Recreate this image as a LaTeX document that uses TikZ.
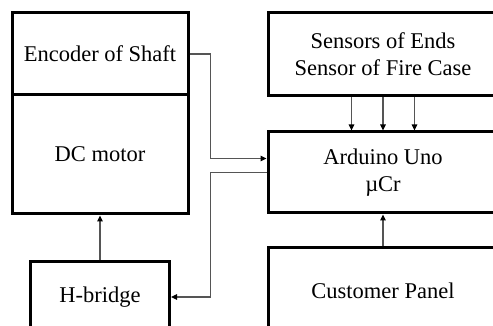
\documentclass[tikz,border=0pt]{standalone}
\usepackage{fontspec}
\setmainfont{Liberation Serif}
\usetikzlibrary{arrows.meta}

\begin{document}
\begin{tikzpicture}[x=1pt,y=1pt,
  block/.style={draw,line width=3pt,inner sep=0pt,align=center,
    font=\fontsize{22.5}{27}\selectfont},
  link/.style={draw=linkGray,line width=1.1pt,
    -{Triangle[length=6pt,width=5.5pt,color=black]}}]
\definecolor{linkGray}{HTML}{555555}
\useasboundingbox (0,0) rectangle (493,326);
\clip (0,0) rectangle (493,326);
% motor side
\node[block,minimum width=176pt,minimum height=82pt] (enc) at (100,272) {Encoder of Shaft};
\node[block,minimum width=176pt,minimum height=119pt] (dc) at (100,171.5) {DC motor};
\node[block,minimum width=139pt,minimum height=70pt] (hb) at (100,29) {H-bridge};
% controller side
\node[block,minimum width=230pt,minimum height=83pt] (sens) at (383,271.5) {Sensors of Ends\\Sensor of Fire Case};
\node[block,minimum width=230pt,minimum height=81pt] (ard) at (383,153.5) {Arduino Uno\\µCr};
\node[block,minimum width=230pt,minimum height=86pt] (cust) at (383,35) {Customer Panel};
\coordinate (tap) at (210.5,0);
\coordinate (encin) at ([yshift=14pt]ard.west);
\draw[link] (enc.east) -- (enc.east -| tap) |- (encin);
\draw[link] (ard.west) -- (ard.west -| tap) |- (hb.east);
\draw[link] (hb.north) -- (dc.south);
\draw[link] (cust.north) -- (ard.south);
\foreach \dx in {-31.5,0,31.5} {
  \draw[link] ([xshift=\dx pt]sens.south) -- ([xshift=\dx pt]ard.north);
}
\end{tikzpicture}
\end{document}
